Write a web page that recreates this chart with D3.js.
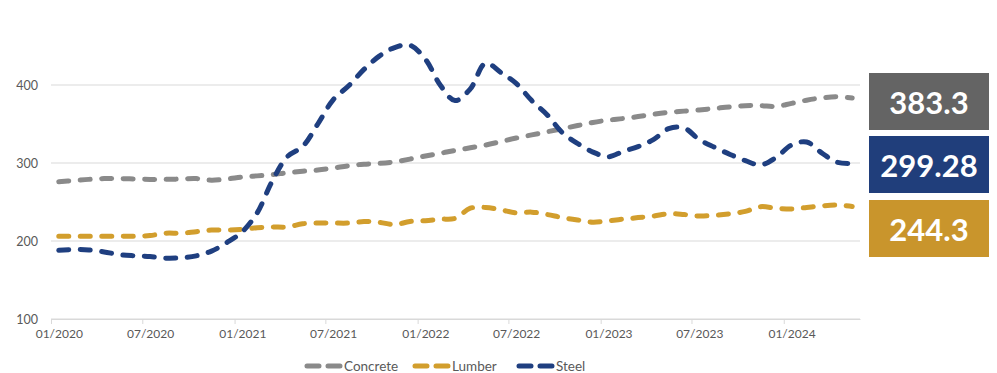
<!DOCTYPE html>
<html>
<head>
<meta charset="utf-8">
<script src="https://cdn.jsdelivr.net/npm/d3@7"></script>
<style>
  html, body { margin: 0; padding: 0; background: #fff; }
  svg { display: block; font-family: Lato, "Open Sans", sans-serif; }
</style>
</head>
<body>
<svg id="chart" width="997" height="373"></svg>
<script>
// Monthly index values, Jan 2020 – May 2024
const firstMonth = "2020-01";
const concrete = [276, 277.5, 279, 280, 280, 279.5, 279, 279, 279.5, 280, 278, 279.5,
  282, 283.5, 285, 287.5, 289.5, 291, 293.5, 296.5, 298.5, 299.5, 301.5, 305,
  309, 312.5, 316, 319.5, 323, 327.5, 332, 336, 340, 344, 348, 352,
  355, 357, 359.5, 362.5, 365, 366.5, 368, 370, 372, 373.5, 373.5, 372.5,
  376.5, 380.5, 383.5, 385, 383.3];
const lumber = [206, 206, 206, 206, 206, 206, 207, 210, 210, 212, 214, 214,
  215, 217, 218, 218, 222, 223, 223, 223, 225, 224, 221, 225,
  226, 228, 229, 242, 243, 240, 236, 237, 234, 230, 227, 224,
  226, 228, 230, 232, 235, 234, 232, 233, 235, 238, 244, 242,
  241, 243, 245, 246, 244.3];
const steel = [188, 189, 188.5, 186, 182.5, 181, 180, 178, 178.5, 181, 187, 198,
  212, 236, 276, 308, 321, 350, 381, 399, 420, 437, 448, 451,
  433, 400, 380, 395, 428, 416, 402, 380, 362, 339, 325, 314,
  308, 315, 321, 330, 344, 345, 330, 320, 311, 303, 297.5, 307,
  323, 327, 313, 301, 299.28];

const seriesNames = ["Concrete", "Lumber", "Steel"];
const seriesColors = ["#8a8a8a", "#d29e2d", "#1f3f80"];
const badgeColors = ["#646464", "#c9952c", "#203e7b"];
const badgeOrder = [0, 2, 1];            // concrete, steel, lumber from top
const yTicks = [100, 200, 300, 400];
const xTickLabels = ["01/2020", "07/2020", "01/2021", "07/2021", "01/2022",
  "07/2022", "01/2023", "07/2023", "01/2024"];

const svg = d3.select("#chart");
const parseMonth = d3.timeParse("%m/%Y");
const start = d3.timeParse("%Y-%m")(firstMonth);
const monthStarts = d3.range(concrete.length + 1).map(i => d3.timeMonth.offset(start, i));
// each value sits in the middle of its month
const midMonth = d => new Date((+d + +d3.timeMonth.offset(d, 1)) / 2);
const dates = concrete.map((_, i) => midMonth(monthStarts[i]));

const x = d3.scaleTime()
  .domain([monthStarts[0], monthStarts[monthStarts.length - 1]])
  .range([51, 860]);
const y = d3.scaleLinear().domain([100, 400]).range([319, 85]);

// gridlines
svg.append("g")
  .selectAll("line")
  .data(yTicks)
  .join("line")
  .attr("x1", 51).attr("x2", 860)
  .attr("y1", d => y(d)).attr("y2", d => y(d))
  .attr("stroke", "#d9d9d9").attr("stroke-width", 1);

// y axis labels
const yAxis = d3.axisLeft(y).tickValues(yTicks).tickSize(0).tickPadding(13);
const gy = svg.append("g").attr("transform", "translate(51,0)").call(yAxis);
gy.select(".domain").remove();
gy.selectAll("text")
  .attr("fill", "#595959")
  .style("font-size", "12.5px")
  .style("font-family", "Lato, sans-serif");

// x axis: tick marks at month boundaries every six months
const tickDates = xTickLabels.map(parseMonth);
const xTicks = d3.axisBottom(x)
  .tickValues(tickDates)
  .tickFormat("")
  .tickSize(5)
  .tickSizeOuter(0);
const gx = svg.append("g").attr("transform", "translate(0,319)").call(xTicks);
gx.select(".domain").attr("stroke", "#d9d9d9");
gx.selectAll(".tick line").attr("stroke", "#d9d9d9");

// x axis labels centred on their month
const xLabels = d3.axisBottom(x)
  .tickValues(tickDates.map(midMonth))
  .tickFormat(d3.timeFormat("%m/%Y"))
  .tickSize(0)
  .tickPadding(10);
const gxl = svg.append("g").attr("transform", "translate(0,319)").call(xLabels);
gxl.select(".domain").remove();
gxl.selectAll("text")
  .attr("fill", "#595959")
  .style("font-size", "12px")
  .style("font-family", "Lato, sans-serif");

// series lines
const allSeries = [concrete, lumber, steel];
const line = d3.line()
  .x((d, i) => x(dates[i]))
  .y(d => y(d))
  .curve(d3.curveCatmullRom.alpha(0.5));

svg.append("g")
  .selectAll("path")
  .data(allSeries)
  .join("path")
  .attr("d", d => line(d))
  .attr("fill", "none")
  .attr("stroke", (d, i) => seriesColors[i])
  .attr("stroke-width", 5)
  .attr("stroke-linecap", "round")
  .attr("stroke-dasharray", "10 11.5");

// latest-value badges
const badgeTop = [73, 136, 200];
const badges = svg.append("g")
  .selectAll("g")
  .data(badgeOrder)
  .join("g")
  .attr("transform", (d, k) => `translate(869,${badgeTop[k]})`);
badges.append("rect")
  .attr("width", 120).attr("height", 57)
  .attr("fill", d => badgeColors[d]);
badges.append("text")
  .attr("x", 60).attr("y", 29)
  .attr("text-anchor", "middle")
  .attr("dominant-baseline", "central")
  .attr("fill", "#fff")
  .style("font-size", "31px")
  .style("font-weight", "700")
  .style("font-family", "Lato, sans-serif")
  .text(d => allSeries[d][allSeries[d].length - 1]);

// legend
const legendX = [305, 413, 517];
const legend = svg.append("g")
  .selectAll("g")
  .data(seriesNames)
  .join("g")
  .attr("transform", (d, i) => `translate(${legendX[i]},366)`);
legend.append("line")
  .attr("x1", 2).attr("x2", 35)
  .attr("stroke", (d, i) => seriesColors[i])
  .attr("stroke-width", 5)
  .attr("stroke-linecap", "round")
  .attr("stroke-dasharray", "12 9");
legend.append("text")
  .attr("x", 39).attr("y", 0)
  .attr("dominant-baseline", "central")
  .attr("fill", "#595959")
  .style("font-size", "13.5px")
  .style("font-family", "Lato, sans-serif")
  .text(d => d);
</script>
</body>
</html>
